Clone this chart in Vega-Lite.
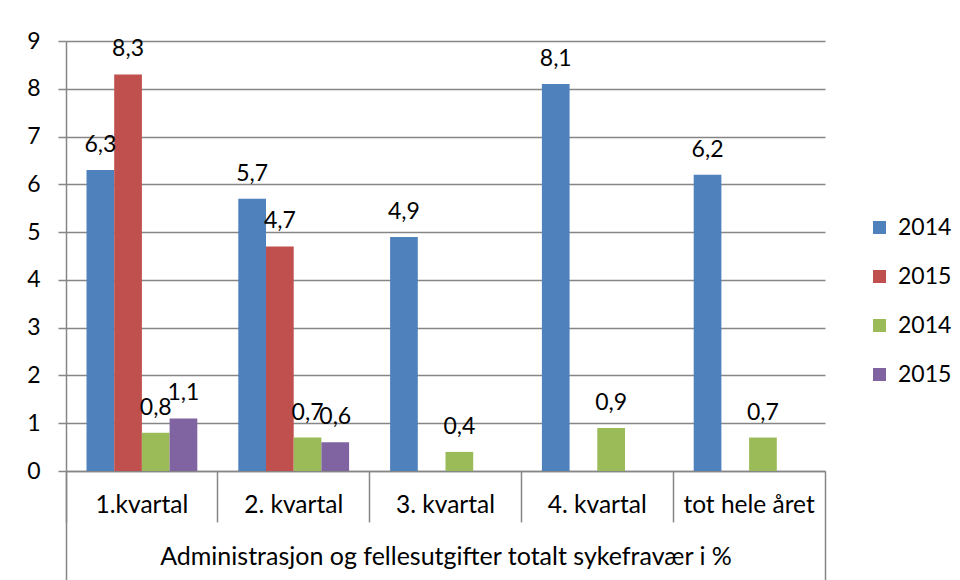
{
  "$schema": "https://vega.github.io/schema/vega-lite/v6.json",
  "width": 759,
  "height": 430,
  "autosize": {"type": "none"},
  "padding": {"left": 66, "top": 41, "right": 135, "bottom": 109},
  "background": "white",
  "config": {
    "font": "Lato",
    "view": {"stroke": null},
    "locale": {"number": {"decimal": ",", "thousands": " ", "grouping": [3], "currency": ["", " kr"]}},
    "axis": {"labelColor": "#000000", "titleColor": "#000000", "domainColor": "#868686", "tickColor": "#868686", "gridColor": "#868686", "labelFont": "Lato", "titleFont": "Lato"}
  },
  "data": {
    "values": [
      {"kategori": "1.kvartal", "serie": "2014-1", "verdi": 6.3},
      {"kategori": "1.kvartal", "serie": "2015-1", "verdi": 8.3},
      {"kategori": "1.kvartal", "serie": "2014-2", "verdi": 0.8},
      {"kategori": "1.kvartal", "serie": "2015-2", "verdi": 1.1},
      {"kategori": "2. kvartal", "serie": "2014-1", "verdi": 5.7},
      {"kategori": "2. kvartal", "serie": "2015-1", "verdi": 4.7},
      {"kategori": "2. kvartal", "serie": "2014-2", "verdi": 0.7},
      {"kategori": "2. kvartal", "serie": "2015-2", "verdi": 0.6},
      {"kategori": "3. kvartal", "serie": "2014-1", "verdi": 4.9},
      {"kategori": "3. kvartal", "serie": "2014-2", "verdi": 0.4},
      {"kategori": "4. kvartal", "serie": "2014-1", "verdi": 8.1},
      {"kategori": "4. kvartal", "serie": "2014-2", "verdi": 0.9},
      {"kategori": "tot hele året", "serie": "2014-1", "verdi": 6.2},
      {"kategori": "tot hele året", "serie": "2014-2", "verdi": 0.7}
    ]
  },
  "resolve": {"axis": {"x": "independent"}},
  "layer": [
    {
      "mark": {"type": "bar"},
      "encoding": {
        "x": {
          "field": "kategori", "type": "nominal",
          "sort": ["1.kvartal", "2. kvartal", "3. kvartal", "4. kvartal", "tot hele året"],
          "scale": {"paddingInner": 0, "paddingOuter": 0},
          "axis": {
            "orient": "bottom",
            "title": "Administrasjon og fellesutgifter totalt sykefravær i %",
            "titleFontSize": 25, "titleFontWeight": "normal", "titlePadding": 22,
            "bandPosition": 0, "tickSize": 51, "tickWidth": 1.5, "domainWidth": 1.5,
            "labelFontSize": 24.5, "labelAngle": 0, "labelBaseline": "middle", "labelPadding": -17,
            "grid": false
          }
        },
        "xOffset": {
          "field": "serie", "type": "nominal",
          "sort": ["2014-1", "2015-1", "2014-2", "2015-2"],
          "scale": {"domain": ["2014-1", "2015-1", "2014-2", "2015-2"], "paddingInner": 0, "paddingOuter": 0.74}
        },
        "y": {
          "field": "verdi", "type": "quantitative",
          "scale": {"domain": [0, 9], "nice": false},
          "axis": {
            "title": null, "values": [0, 1, 2, 3, 4, 5, 6, 7, 8, 9],
            "labelFontSize": 23, "tickSize": 8, "labelPadding": 18, "tickWidth": 1.5,
            "domainWidth": 1.5, "gridWidth": 1.5, "grid": true
          }
        },
        "color": {
          "field": "serie", "type": "nominal",
          "scale": {"domain": ["2014-1", "2015-1", "2014-2", "2015-2"], "range": ["#4F81BD", "#C0504D", "#9BBB59", "#8064A2"]},
          "legend": {
            "title": null, "orient": "none", "legendX": 802, "legendY": 175,
            "labelExpr": "slice(datum.label, 0, 4)", "labelFontSize": 23, "labelFont": "Lato", "labelColor": "#000000",
            "symbolType": "square", "symbolSize": 169, "symbolStrokeWidth": 0, "labelOffset": 7, "rowPadding": 25
          }
        }
      }
    },
    {
      "transform": [{"filter": "datum.serie == '2014-1' || datum.serie == '2015-1'"}],
      "mark": {"type": "text", "fontSize": 23, "baseline": "alphabetic", "dy": -18, "color": "#000000"},
      "encoding": {
        "x": {
          "field": "kategori", "type": "nominal",
          "sort": ["1.kvartal", "2. kvartal", "3. kvartal", "4. kvartal", "tot hele året"],
          "axis": {"orient": "bottom", "values": ["tot hele året"], "bandPosition": 1, "tickSize": 109, "tickWidth": 1.5, "labels": false, "domain": false, "title": null, "grid": false}
        },
        "xOffset": {"field": "serie", "type": "nominal", "sort": ["2014-1", "2015-1", "2014-2", "2015-2"]},
        "y": {"field": "verdi", "type": "quantitative"},
        "text": {"field": "verdi", "type": "quantitative", "format": ".1f"}
      }
    },
    {
      "transform": [{"filter": "datum.serie == '2014-2' || datum.serie == '2015-2'"}],
      "mark": {"type": "text", "fontSize": 23, "baseline": "alphabetic", "dy": -18, "color": "#000000"},
      "encoding": {
        "x": {
          "field": "kategori", "type": "nominal",
          "sort": ["1.kvartal", "2. kvartal", "3. kvartal", "4. kvartal", "tot hele året"],
          "axis": {"orient": "bottom", "values": ["1.kvartal"], "bandPosition": 0, "tickSize": 109, "tickWidth": 1.5, "labels": false, "domain": false, "title": null, "grid": false}
        },
        "xOffset": {"field": "serie", "type": "nominal", "sort": ["2014-1", "2015-1", "2014-2", "2015-2"]},
        "y": {"field": "verdi", "type": "quantitative"},
        "text": {"field": "verdi", "type": "quantitative", "format": ".1f"}
      }
    }
  ]
}
